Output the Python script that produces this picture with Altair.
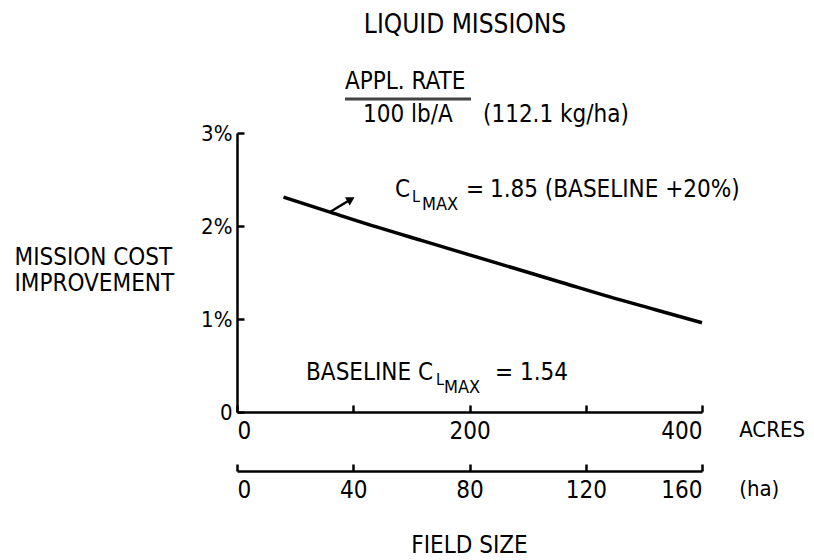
import altair as alt
import pandas as pd

# ---- data ----
acres = [40, 80, 120, 160, 200, 240, 280, 320, 360, 400]
improvement = [2.31, 2.15, 1.99, 1.84, 1.69, 1.54, 1.39, 1.24, 1.10, 0.96]

acre_ticks = [0, 100, 200, 300, 400]
ha_ticks = [0, 40, 80, 120, 160]          # printed under the acre ticks
pct_ticks = [0, 1, 2, 3]

# annotations (placed in data units: acres / percent)
ann_text = ["LIQUID MISSIONS", "APPL. RATE", "100 lb/A", "(112.1 kg/ha)",
            "C", "L", "MAX", "=", "1.85  (BASELINE +20%)",
            "BASELINE C", "L", "MAX", "=  1.54",
            "ACRES", "(ha)", "FIELD SIZE"]
ann_x = [196.1, 92.9, 108.4, 211.6,
         135.9, 150.5, 159.1, 197.0, 217.6,
         59.4, 171.2, 178.1, 221.9,
         432.0, 432.0, 200.0]
ann_y = [4.161, 3.548, 3.194, 3.194,
         2.387, 2.312, 2.226, 2.387, 2.387,
         0.419, 0.344, 0.258, 0.419,
         -0.194, -0.828, -1.440]
ann_size = [26, 24, 24, 24,
            24, 16, 18, 24, 24,
            24, 16, 18, 24,
            22, 22, 24]
ann_align = ["center", "left", "left", "left",
             "left", "left", "left", "left", "left",
             "left", "left", "left", "left",
             "left", "left", "center"]

underline_x = [92.9, 201.3]
underline_y = [3.366]
leader_x = [80, 97]
leader_y = [2.15, 2.28]

FONT = "Liberation Sans Narrow, DejaVu Sans Condensed, Arial Narrow, sans-serif"

XS = alt.Scale(domain=[0, 400], nice=False, zero=False)
YS = alt.Scale(domain=[0, 3], nice=False, zero=False)

curve_df = pd.DataFrame({"acres": acres, "pct": improvement})
ann_df = pd.DataFrame({"text": ann_text, "acres": ann_x, "pct": ann_y,
                       "size": ann_size, "align": ann_align})

axis_common = dict(grid=False, domainColor="black", domainWidth=2.5,
                   tickColor="black", tickWidth=2.5, labelColor="black",
                   labelFont=FONT, tickSize={"expr": "-7"})

curve = alt.Chart(curve_df).mark_line(color="black", strokeWidth=3.5,
                                      interpolate="monotone").encode(
    x=alt.X("acres:Q", scale=XS, axis=alt.Axis(
        orient="bottom", values=acre_ticks, title=None,
        labelExpr="datum.value % 200 == 0 ? datum.label : ''",
        labelPadding=14, labelFontSize=24, **axis_common,
    )),
    y=alt.Y("pct:Q", scale=YS, axis=alt.Axis(
        orient="left", values=pct_ticks,
        labelExpr="datum.value == 0 ? '0' : datum.value + '%'",
        labelPadding=12, labelFontSize=22,
        title=["MISSION COST", "IMPROVEMENT"], titleAngle=0,
        titleAlign="left", titleBaseline="top", titleX=-223, titleY=112,
        titleFontSize=24, titleFontWeight="normal", titleLineHeight=26,
        titleFont=FONT, titleColor="black", **axis_common,
    )),
)

ha_expr = "[{}][indexof([{}], datum.value)]".format(
    ",".join("'%d'" % v for v in ha_ticks), ",".join(str(v) for v in acre_ticks))

ha_axis = alt.Chart(pd.DataFrame({"acres": acre_ticks})).mark_point(opacity=0).encode(
    x=alt.X("acres:Q", scale=XS, axis=alt.Axis(
        orient="bottom", offset=59, values=acre_ticks, title=None,
        labelExpr=ha_expr, labelPadding=14, labelFontSize=24, **axis_common,
    )),
)

ann_layers = []
for align in ["left", "center"]:
    sub = ann_df[ann_df["align"] == align]
    ann_layers.append(
        alt.Chart(sub).mark_text(align=align, baseline="middle", font=FONT,
                                 color="black").encode(
            x=alt.X("acres:Q", scale=XS, axis=None),
            y=alt.Y("pct:Q", scale=YS, axis=None),
            text="text:N",
            size=alt.Size("size:Q", scale=None, legend=None),
        )
    )

underline = alt.Chart(pd.DataFrame({"x": [underline_x[0]], "x2": [underline_x[1]],
                                    "y": underline_y})).mark_rule(
    color="#444", strokeWidth=3).encode(
    x=alt.X("x:Q", scale=XS, axis=None), x2="x2:Q",
    y=alt.Y("y:Q", scale=YS, axis=None))

leader = alt.Chart(pd.DataFrame({"x": [leader_x[0]], "x2": [leader_x[1]],
                                 "y": [leader_y[0]], "y2": [leader_y[1]]})).mark_rule(
    color="black", strokeWidth=2.5).encode(
    x=alt.X("x:Q", scale=XS, axis=None), x2="x2:Q",
    y=alt.Y("y:Q", scale=YS, axis=None), y2="y2:Q")

arrowhead = alt.Chart(pd.DataFrame({"x": [leader_x[1]], "y": [leader_y[1]]})).mark_point(
    shape="triangle", filled=True, color="black", size=90, angle=60, opacity=1).encode(
    x=alt.X("x:Q", scale=XS, axis=None),
    y=alt.Y("y:Q", scale=YS, axis=None))

chart = alt.layer(curve, ha_axis, underline, leader, arrowhead, *ann_layers).resolve_axis(
    x="independent", y="independent").properties(
    width=465, height=279,
    padding={"left": 229, "top": 125, "right": 104, "bottom": 148},
    autosize=alt.AutoSizeParams(type="none"),
    background="white",
).configure_view(strokeWidth=0)

chart.save("out.html", embed_options={"renderer": "svg", "actions": False})
